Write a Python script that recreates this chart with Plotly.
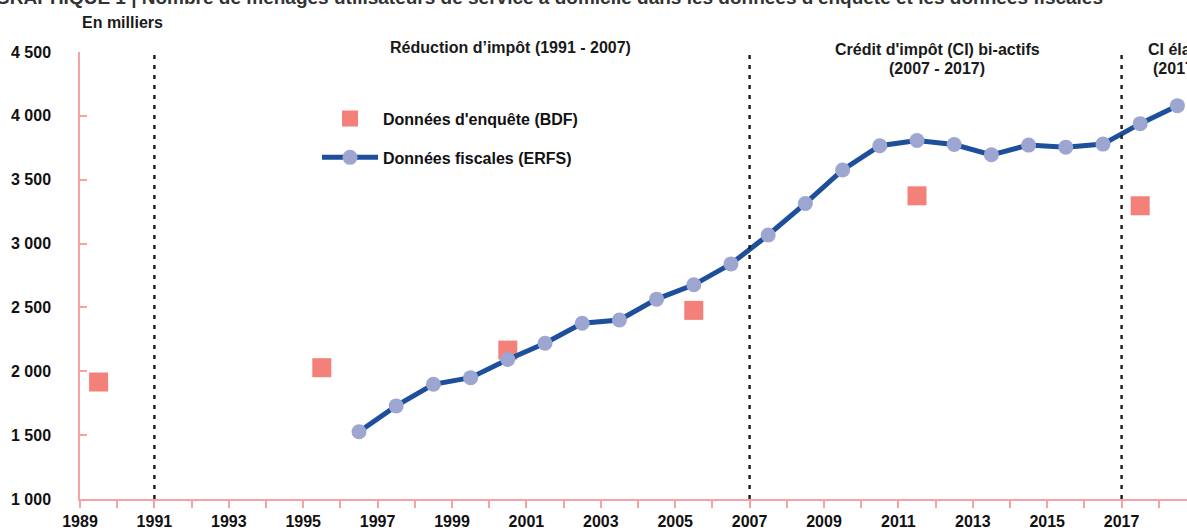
import plotly.graph_objects as go

# ---- data ----
erfs_years = [1996, 1997, 1998, 1999, 2000, 2001, 2002, 2003, 2004, 2005, 2006,
              2007, 2008, 2009, 2010, 2011, 2012, 2013, 2014, 2015, 2016, 2017, 2018]
erfs_values = [1527, 1729, 1898, 1950, 2092, 2220, 2376, 2402, 2565, 2677, 2841,
               3067, 3314, 3576, 3766, 3807, 3776, 3695, 3771, 3755, 3779, 3939, 4080]
bdf_years = [1989, 1995, 2000, 2005, 2011, 2017]
bdf_values = [1916, 2028, 2166, 2477, 3374, 3296]
period_breaks = [1991, 2007, 2017]
y_ticks = [1000, 1500, 2000, 2500, 3000, 3500, 4000, 4500]
y_ticktext = ["1 000", "1 500", "2 000", "2 500", "3 000", "3 500", "4 000", "4 500"]
x_ticks = list(range(1989, 2019))
x_ticktext = [str(y) if y % 2 == 1 else "" for y in x_ticks]

FONT = "Arial, 'Liberation Sans', sans-serif"
AXIS_COLOR = "#F5A3A3"
FS = 16

fig = go.Figure()

# data points are drawn in the middle of each year band
fig.add_trace(go.Scatter(
    x=[y + 0.5 for y in bdf_years], y=bdf_values,
    mode="markers", name="Données d'enquête (BDF)",
    legendgroup="a",
    marker=dict(symbol="square", size=19, color="#F4807A", line=dict(width=0)),
))
fig.add_trace(go.Scatter(
    x=[y + 0.5 for y in erfs_years], y=erfs_values,
    mode="lines+markers", name="Données fiscales (ERFS)",
    legendgroup="b",
    line=dict(color="#1D4F9B", width=5),
    marker=dict(symbol="circle", size=15, color="#9DA5D1", line=dict(width=0)),
))

for xb in period_breaks:
    fig.add_shape(type="line", xref="x", yref="y", x0=xb, x1=xb, y0=1000, y1=4500,
                  line=dict(color="#222222", width=2.5, dash="4px,6px"), layer="above")

ann_font = dict(family=FONT, size=FS, color="#1a1a1a", weight="bold")
annotations = [
    dict(text="GRAPHIQUE 1 | Nombre de ménages utilisateurs de service à domicile dans les données d'enquête et les données fiscales",
         xref="paper", yref="paper", x=(1105 - 80) / 1107, y=1, xanchor="right", yanchor="bottom",
         yshift=42, showarrow=False, font=dict(family=FONT, size=19, color="#333333", weight="bold")),
    dict(text="En milliers", xref="paper", yref="paper", x=0, y=1, xanchor="left",
         yanchor="middle", yshift=30, showarrow=False, font=ann_font),
    dict(text="Réduction d’impôt (1991 - 2007)", xref="x", yref="paper", x=2000.56, y=1,
         yanchor="middle", yshift=5, showarrow=False, font=ann_font),
    dict(text="Crédit d'impôt (CI) bi-actifs", xref="x", yref="paper", x=2012.04, y=1,
         yanchor="middle", yshift=3, showarrow=False, font=ann_font),
    dict(text="(2007 - 2017)", xref="x", yref="paper", x=2012.04, y=1,
         yanchor="middle", yshift=-16, showarrow=False, font=ann_font),
    dict(text="CI élargi", xref="x", yref="paper", x=2017.66, y=1, xanchor="left",
         yanchor="middle", yshift=3, showarrow=False, font=ann_font),
    dict(text="(2017 - 2019)", xref="x", yref="paper", x=2017.80, y=1, xanchor="left",
         yanchor="middle", yshift=-16, showarrow=False, font=ann_font),
]

fig.update_layout(
    width=1187, height=530,
    margin=dict(l=80, r=0, t=52, b=28),
    paper_bgcolor="white", plot_bgcolor="white",
    font=dict(family=FONT, size=FS, color="#111111"),
    showlegend=True,
    legend=dict(x=(317 - 80) / 1107, y=1 - (102 - 52) / 450, xanchor="left", yanchor="top",
                bgcolor="rgba(0,0,0,0)", tracegroupgap=15, itemwidth=56,
                font=dict(family=FONT, size=FS, color="#111111", weight="bold")),
    annotations=annotations,
    xaxis=dict(range=[1989, 1989 + 1107 / 37.2], tickvals=x_ticks, ticktext=x_ticktext,
               ticks="outside", ticklen=7, tickcolor=AXIS_COLOR, tickwidth=1.5,
               showline=True, linecolor=AXIS_COLOR, linewidth=1.5, showgrid=False,
               zeroline=False, tickfont=dict(family=FONT, size=FS, color="#111111", weight="bold")),
    yaxis=dict(range=[1000, 4500], tickvals=y_ticks, ticktext=y_ticktext,
               ticks="inside", ticklen=7, tickcolor=AXIS_COLOR, tickwidth=1.5,
               showline=True, linecolor=AXIS_COLOR, linewidth=1.5, showgrid=False,
               zeroline=False, ticklabelstandoff=24,
               tickfont=dict(family=FONT, size=FS, color="#111111", weight="bold")),
)

fig.write_html("out.html", config={"displayModeBar": False},
               post_script="document.body.style.margin='0';document.body.style.overflow='hidden';")
